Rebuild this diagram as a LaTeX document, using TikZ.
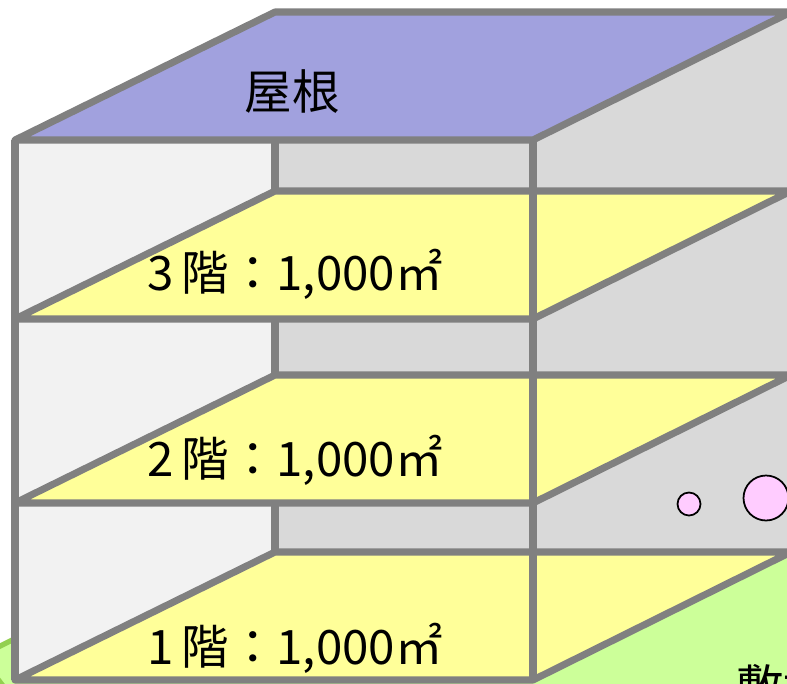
\documentclass[tikz,border=0pt]{standalone}
\usepackage{fontspec}
\newfontfamily\jpfont{Noto Sans CJK JP}
\usetikzlibrary{positioning}
\usetikzlibrary{backgrounds}
\usetikzlibrary{calc}

\definecolor{roof}{RGB}{161,161,222}
\definecolor{slab}{RGB}{255,255,153}
\definecolor{sidewall}{RGB}{242,242,242}
\definecolor{backwall}{RGB}{217,217,217}
\definecolor{edge}{RGB}{128,128,128}
\definecolor{site}{RGB}{204,255,153}
\definecolor{siteedge}{RGB}{146,208,80}
\definecolor{ball}{RGB}{255,204,255}

\tikzset{
	edgeline/.style = {draw = edge, line width = 4pt, line join = round},
	floorlabel/.style = {font = \jpfont\fontsize{27}{27}\selectfont, inner sep = 0pt},
	ballnode/.style = {circle, draw = black, fill = ball, line width = 1pt, inner sep = 0pt}
}

\begin{document}
\begin{tikzpicture}[x=0.02cm, y=-0.02cm]
		\useasboundingbox (0,0) rectangle (787,683);
		\clip (0,0) rectangle (787,683);

		% site under the building
		\fill[site, draw = siteedge, line width = 3pt] (-20,656) -- (1000,150) -- (1000,760) -- (60,760) -- cycle;

		% walls seen through the open front
		\fill[backwall] (275,12) rectangle (791,552);
		\fill[sidewall] (15,140) -- (275,12) -- (275,552) -- (15,680) -- cycle;
		\draw[edgeline] (275,12) -- (275,552);
		\draw[edgeline] (791,12) -- (791,552);

		% floor slabs
		\foreach \f in {319,503,680}
		{
			\draw[edgeline, fill = slab] (15,\f) -- (533,\f) -- (791,\f-128) -- (275,\f-128) -- cycle;
		}

		% front edges
		\draw[edgeline] (15,140) -- (15,680);
		\draw[edgeline] (533,140) -- (533,680);

		% roof
		\draw[edgeline, fill = roof] (15,140) -- (275,12) -- (791,12) -- (533,140) -- cycle;

		\node[floorlabel] at (292,92) (roof) {屋根};
		\node[floorlabel] at (295,274) (f3) {3\,階：1,000㎡};
		\node[floorlabel] at (295,460) (f2) {2\,階：1,000㎡};
		\node[floorlabel] at (295,648) (f1) {1\,階：1,000㎡};

		\node[ballnode, minimum size = 0.46cm] at (689,504) (bs) {};
		\node[ballnode, minimum size = 0.9cm] at (766,498) (bl) {};

		\node[floorlabel, anchor = north west] at (736,664) (site) {敷地};
	\end{tikzpicture}
\end{document}
